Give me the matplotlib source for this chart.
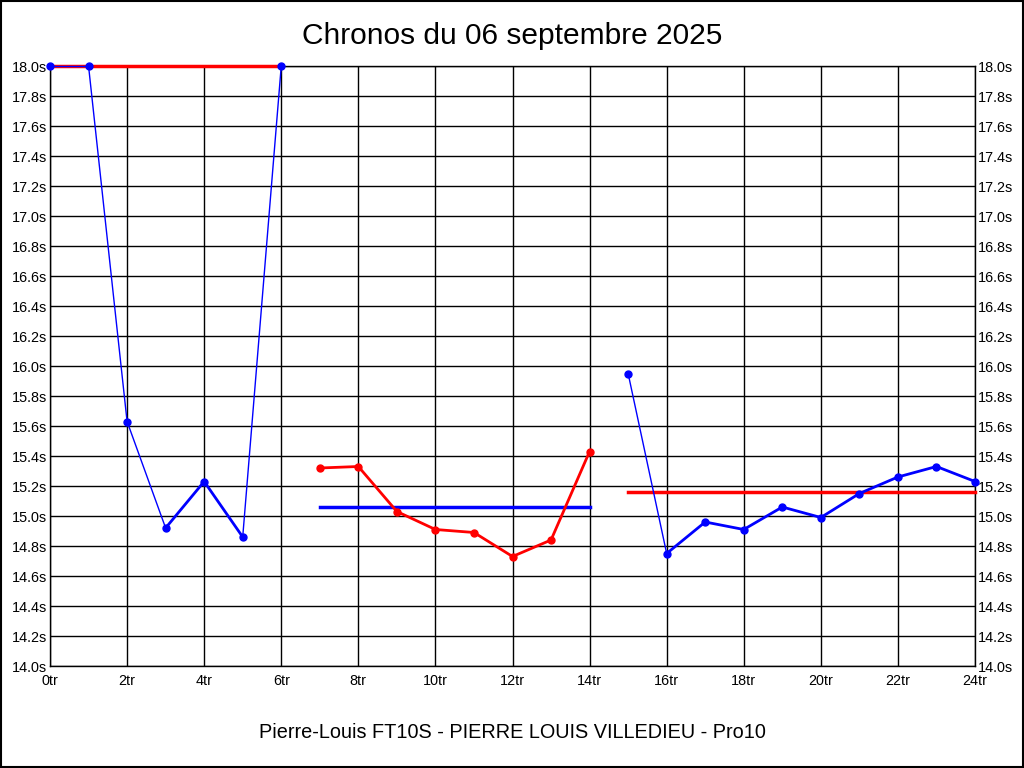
import matplotlib
matplotlib.use("Agg")
import matplotlib.pyplot as plt
from matplotlib.patches import Rectangle

plt.rcParams['font.family'] = ['Liberation Sans', 'DejaVu Sans']

# lap times, one list per run
run1_laps = [0, 1, 2, 3, 4, 5, 6]
run1_times = [18.0, 18.0, 15.63, 14.92, 15.23, 14.86, 18.0]
run2_laps = [7, 8, 9, 10, 11, 12, 13, 14]
run2_times = [15.32, 15.33, 15.03, 14.91, 14.89, 14.73, 14.84, 15.43]
run3_laps = [15, 16, 17, 18, 19, 20, 21, 22, 23, 24]
run3_times = [15.95, 14.75, 14.96, 14.91, 15.06, 14.99, 15.15, 15.26, 15.33, 15.23]

# reference level drawn for each run
run_levels = [18.0, 15.06, 15.16]

runs = [(run1_laps, run1_times), (run2_laps, run2_times), (run3_laps, run3_times)]
run_colors = ['#0000ff', '#ff0000', '#0000ff']
level_colors = ['#ff0000', '#0000ff', '#ff0000']
# laps treated as outliers get a thin connecting line
outliers = [0, 1, 2, 6, 15]

yticks = [14.0 + 0.2 * i for i in range(21)]
xticks = list(range(0, 25, 2))

fig = plt.figure(figsize=(10.24, 7.68), dpi=100)
ax = fig.add_axes([50 / 1024, 102 / 768, 925 / 1024, 600 / 768])

ax.set_xlim(0, 24)
ax.set_ylim(14.0, 18.0)
ax.set_yticks(yticks)
ax.set_yticklabels(["%.1fs" % v for v in yticks])
ax.set_xticks(xticks)
ax.set_xticklabels(["%dtr" % v for v in xticks])
ax.grid(True, color='black', linewidth=1)
ax.set_axisbelow(True)
ax.tick_params(axis='both', length=0, labelsize=10.4, colors='black')
ax.tick_params(axis='y', right=True, labelright=True, pad=2)
ax.tick_params(axis='x', pad=6)
for s in ax.spines.values():
    s.set_linewidth(1)

for (laps, times), col, lev, lcol in zip(runs, run_colors, run_levels, level_colors):
    ax.plot([laps[0], laps[-1]], [lev, lev], color=lcol, linewidth=2.5, zorder=3,
            clip_on=False)
    for i in range(len(laps) - 1):
        thin = laps[i] in outliers or laps[i + 1] in outliers
        ax.plot(laps[i:i + 2], times[i:i + 2], color=col,
                linewidth=1.0 if thin else 2.0, zorder=4, clip_on=False)
    ax.plot(laps, times, linestyle='none', marker='o', markersize=5,
            color=col, zorder=5, clip_on=False)

fig.text(0.5, 1 - 36 / 768, "Chronos du 06 septembre 2025", ha='center', va='center',
         fontsize=21.5)
fig.text(0.5, 1 - 733 / 768, "Pierre-Louis FT10S - PIERRE LOUIS VILLEDIEU - Pro10",
         ha='center', va='center', fontsize=14.3)

fig.patches.append(Rectangle((0.001, 0.001), 0.998, 0.998, transform=fig.transFigure,
                             fill=False, edgecolor='black', linewidth=1.5))

fig.savefig("out.png", dpi=100)
